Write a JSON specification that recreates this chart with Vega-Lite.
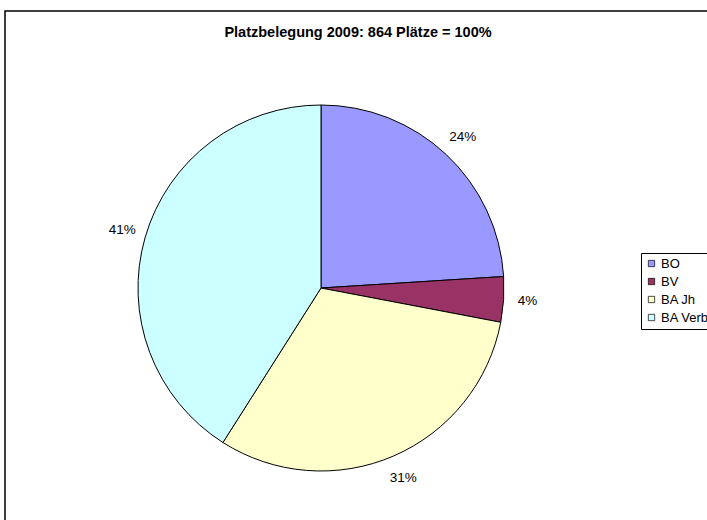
{
  "$schema": "https://vega.github.io/schema/vega-lite/v6.json",
  "autosize": {"type": "none"},
  "padding": {"left": 5, "top": 11, "right": 0, "bottom": 0},
  "width": 720,
  "height": 530,
  "background": "white",
  "config": {
    "view": {"stroke": "black", "strokeWidth": 1.5},
    "font": "Liberation Sans"
  },
  "title": {
    "text": "Platzbelegung 2009: 864 Plätze = 100%",
    "font": "Liberation Sans",
    "fontSize": 14.5,
    "fontWeight": "bold",
    "color": "black",
    "anchor": "middle",
    "orient": "top",
    "offset": 0,
    "baseline": "middle",
    "dx": -7,
    "dy": 37
  },
  "data": {
    "values": [
      {"nr": 1, "kategorie": "BO", "anteil": 0.24},
      {"nr": 2, "kategorie": "BV", "anteil": 0.04},
      {"nr": 3, "kategorie": "BA Jh", "anteil": 0.31},
      {"nr": 4, "kategorie": "BA Verb", "anteil": 0.41}
    ]
  },
  "layer": [
    {
      "data": {"values": [{"rahmen": 1}]},
      "mark": {"type": "rect", "fill": null, "fillOpacity": 0, "stroke": "black", "strokeWidth": 1.5},
      "encoding": {}
    },
    {
      "mark": {"type": "arc", "x": 316, "y": 277, "outerRadius": 183, "stroke": "black", "strokeWidth": 1},
      "encoding": {
        "theta": {"field": "anteil", "type": "quantitative", "stack": true},
        "order": {"field": "nr", "type": "quantitative", "sort": "ascending"},
        "color": {
          "field": "kategorie",
          "type": "nominal",
          "sort": ["BO", "BV", "BA Jh", "BA Verb"],
          "scale": {
            "domain": ["BO", "BV", "BA Jh", "BA Verb"],
            "range": ["#9999FF", "#993366", "#FFFFCC", "#CCFFFF"]
          },
          "legend": {
            "title": null,
            "orient": "none",
            "legendX": 636,
            "legendY": 242,
            "strokeColor": "black",
            "fillColor": "white",
            "padding": 4,
            "symbolType": "square",
            "symbolSize": 40,
            "symbolStrokeColor": "black",
            "symbolStrokeWidth": 0.7,
            "labelFont": "Liberation Sans",
            "labelFontSize": 13,
            "labelColor": "black",
            "labelOffset": 3,
            "rowPadding": 4,
            "offset": 0
          }
        }
      }
    },
    {
      "mark": {"type": "text", "x": 316, "y": 277, "radius": 207, "font": "Liberation Sans", "fontSize": 13.5, "fill": "black"},
      "encoding": {
        "theta": {"field": "anteil", "type": "quantitative", "stack": true},
        "order": {"field": "nr", "type": "quantitative", "sort": "ascending"},
        "text": {"field": "anteil", "type": "quantitative", "format": ".0%"}
      }
    }
  ]
}
